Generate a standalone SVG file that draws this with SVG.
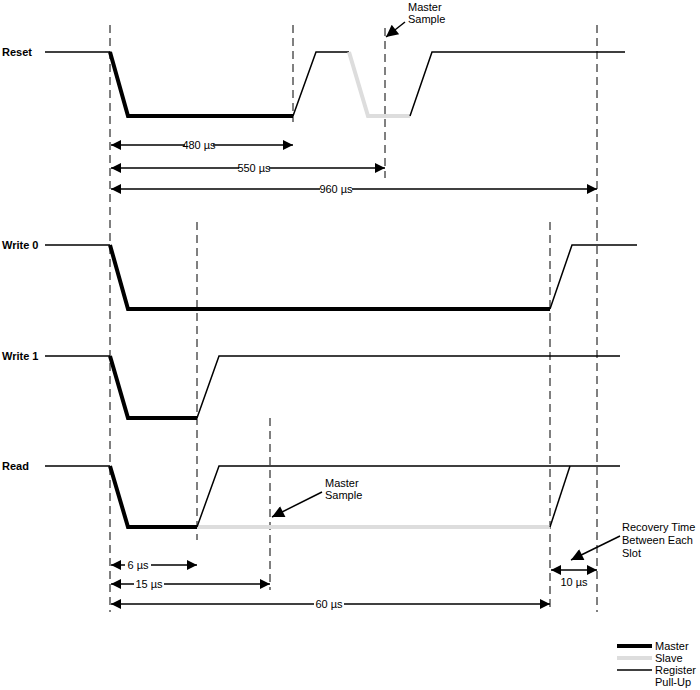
<svg xmlns="http://www.w3.org/2000/svg" width="700" height="690" viewBox="0 0 700 690">
<defs>
<marker id="a" viewBox="0 0 10 10" refX="10" refY="5" markerWidth="10" markerHeight="10" markerUnits="userSpaceOnUse" orient="auto-start-reverse"><path d="M0,0L10,5L0,10z" fill="#000"/></marker>
<marker id="b" viewBox="0 0 10 10" refX="10" refY="5" markerWidth="14" markerHeight="12" markerUnits="userSpaceOnUse" orient="auto"><path d="M0,0L10,5L0,10z" fill="#000"/></marker>
<style>
.m{fill:none;stroke:#000;stroke-width:4}
.s{fill:none;stroke:#ddd;stroke-width:4}
.r{fill:none;stroke:#000;stroke-width:1.5}
.d{stroke:#000;stroke-width:1;stroke-dasharray:8,5}
.ar{stroke:#000;stroke-width:1.5;marker-start:url(#a);marker-end:url(#a)}
.la{stroke:#000;stroke-width:1.5;marker-end:url(#b)}
text{font-family:"Liberation Sans",Arial,sans-serif;font-size:11px}
.b{font-weight:bold}
.c{text-anchor:middle}
</style>
</defs>
<g id="labels">
<text class="b" x="2" y="56">Reset</text>
<text class="b" x="2" y="249">Write 0</text>
<text class="b" x="2" y="360">Write 1</text>
<text class="b" x="2" y="470">Read</text>
</g>
<g id="guides">
<line class="d" x1="110" y1="25" x2="110" y2="612"/>
<line class="d" x1="293" y1="25" x2="293" y2="122"/>
<line class="d" x1="385" y1="28" x2="385" y2="178"/>
<line class="d" x1="597" y1="25" x2="597" y2="612"/>
<line class="d" x1="197" y1="222" x2="197" y2="540"/>
<line class="d" x1="270" y1="418" x2="270" y2="590"/>
<line class="d" x1="550" y1="222" x2="550" y2="612"/>
</g>
<g id="reset">
<path class="r" d="M45,52H110"/>
<path class="m" d="M110,52L128,116H293"/>
<path class="r" d="M293,116L316,52H349"/>
<path class="s" d="M349,52L368,116H410"/>
<path class="r" d="M410,116L432,52H625"/>
</g>
<g id="write0">
<path class="r" d="M45,245H110"/>
<path class="m" d="M110,245L128,309H550"/>
<path class="r" d="M550,309L572,245H637"/>
</g>
<g id="write1">
<path class="r" d="M45,356H110"/>
<path class="m" d="M110,356L128,418H197"/>
<path class="r" d="M197,418L219,356H620"/>
</g>
<g id="read">
<path class="r" d="M45,466H110"/>
<path class="m" d="M110,466L128,527H197"/>
<path class="s" d="M197,527H550"/>
<path class="r" d="M197,527L219,466H620"/>
<path class="r" d="M550,527L570,466"/>
</g>
<g id="connectors">
<line class="ar" x1="111" y1="145" x2="293" y2="145"/>
<line class="ar" x1="111" y1="168" x2="385" y2="168"/>
<line class="ar" x1="111" y1="189" x2="597" y2="189"/>
<line class="ar" x1="111" y1="565" x2="197" y2="565"/>
<line class="ar" x1="111" y1="584" x2="270" y2="584"/>
<line class="ar" x1="111" y1="604" x2="550" y2="604"/>
<line class="ar" x1="551" y1="570" x2="597" y2="570"/>
<line class="la" x1="405" y1="22" x2="386" y2="37"/>
<line class="la" x1="322" y1="492" x2="272" y2="517"/>
<line class="la" x1="620" y1="536" x2="571" y2="560"/>
</g>
<g id="dimtext">
<rect x="185" y="139" width="28" height="12" fill="#fff"/>
<text class="c" x="199" y="149">480 µs</text>
<rect x="239" y="162" width="30" height="12" fill="#fff"/>
<text class="c" x="254" y="172">550 µs</text>
<rect x="320" y="183" width="32" height="12" fill="#fff"/>
<text class="c" x="336" y="193">960 µs</text>
<rect x="125" y="559" width="26" height="12" fill="#fff"/>
<text class="c" x="138" y="569">6 µs</text>
<rect x="134" y="578" width="30" height="12" fill="#fff"/>
<text class="c" x="149" y="588">15 µs</text>
<rect x="314" y="598" width="30" height="12" fill="#fff"/>
<text class="c" x="329" y="608">60 µs</text>
<text class="c" x="574" y="586">10 µs</text>
<text x="408" y="11">Master</text>
<text x="408" y="23">Sample</text>
<text x="325" y="487">Master</text>
<text x="325" y="499">Sample</text>
<text x="622" y="531">Recovery Time</text>
<text x="622" y="544">Between Each</text>
<text x="622" y="557">Slot</text>
</g>
<g id="legend">
<line class="m" x1="617" y1="646" x2="652" y2="646"/>
<line class="s" x1="617" y1="658" x2="652" y2="658"/>
<line class="r" x1="617" y1="670" x2="652" y2="670"/>
<text x="655" y="650">Master</text>
<text x="655" y="662">Slave</text>
<text x="655" y="674">Register</text>
<text x="655" y="686">Pull-Up</text>
</g>
</svg>
